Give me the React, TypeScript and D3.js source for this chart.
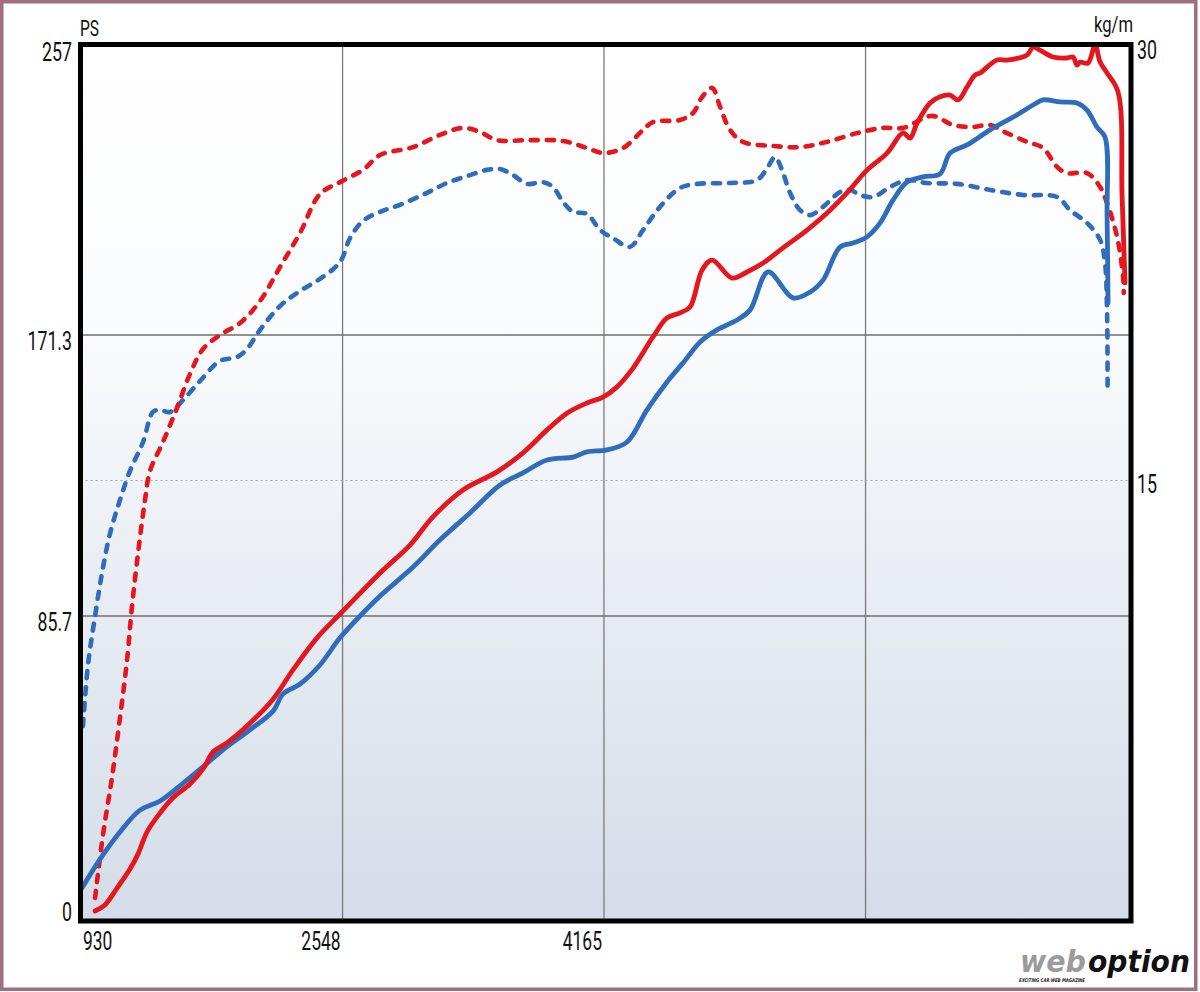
import React from "react";
import * as d3 from "d3";

// ---- data ----
const xTickValues = [930, 2548, 4165];
const xGridValues = [2548, 4165, 5783];
const psTickLabels = ["257", "171.3", "85.7", "0"];
const psTickValues = [257, 171.3, 85.7, 0];
const kgTickLabels = ["30", "15"];
const kgTickValues = [30, 15];

const redPowerRpm = [1017,1078,1153,1233,1283,1338,1419,1499,1604,1685,1747,1833,1957,2118,2241,2390,2532,2780,2965,3107,3293,3503,3664,3813,3936,4060,4159,4246,4345,4468,4555,4635,4697,4772,4834,4957,5050,5149,5254,5421,5545,5668,5792,5916,6015,6058,6102,6182,6244,6306,6355,6411,6460,6491,6596,6658,6782,6819,6862,6943,7029,7066,7091,7110,7159,7203,7234,7277,7345,7370,7388];
const redPowerPs = [2.0,3.7,8.5,13.9,18.2,24.4,29.8,34.1,38.0,42.3,47.1,49.7,54.5,62.1,70.4,79.5,86.3,98.8,107.3,115.9,124.1,129.6,135.4,142.4,147.5,150.6,152.4,155.5,161.2,170.7,176.3,177.8,179.5,190.4,193.3,188.0,189.8,192.4,196.2,202.1,207.1,213.0,219.7,224.7,230.6,229.1,233.5,239.4,241.2,241.7,240.3,244.1,247.6,248.2,252.0,252.0,253.5,255.8,254.9,252.9,252.6,252.9,250.5,251.4,251.1,256.4,251.4,248.2,242.6,211.8,186.6];

const bluePowerRpm = [936,1048,1171,1295,1419,1542,1685,1808,1975,2118,2180,2285,2408,2532,2656,2780,2984,3151,3336,3522,3664,3813,3974,4060,4184,4308,4431,4555,4654,4760,4864,4988,5068,5180,5334,5440,5520,5625,5706,5792,5873,5953,6040,6139,6244,6306,6411,6553,6720,6819,6881,6986,7091,7153,7215,7264,7277,7283];
const bluePowerPs = [8.5,16.7,24.4,30.6,33.2,37.5,42.9,47.7,53.4,58.7,63.6,66.4,71.8,79.5,85.7,91.8,100.6,108.9,117.1,125.6,129.3,133.2,134.1,135.7,136.3,138.7,148.5,157.0,162.8,169.2,172.8,175.7,178.6,189.8,182.2,183.9,187.4,197.1,198.3,200.1,204.2,210.9,216.2,217.7,218.6,224.7,227.1,231.5,235.9,238.8,240.3,239.7,239.4,237.3,232.3,229.4,205.9,180.7];

const redTorqueRpm = [1017,1066,1122,1171,1215,1245,1283,1326,1357,1437,1524,1604,1685,1790,1914,2037,2161,2285,2408,2532,2674,2780,2984,3151,3293,3398,3503,3707,3912,4060,4159,4283,4407,4468,4635,4716,4772,4834,4883,4945,5025,5211,5378,5545,5730,5891,6015,6194,6324,6448,6553,6658,6782,6881,6968,7029,7153,7234,7277,7339,7376,7380];
const redTorqueKgm = [0.69,2.85,4.83,6.86,8.85,10.66,12.51,14.33,15.33,16.32,17.49,18.65,19.51,19.99,20.40,21.15,22.32,23.49,24.82,25.23,25.65,26.16,26.43,26.85,27.09,26.95,26.67,26.67,26.64,26.40,26.23,26.40,27.02,27.29,27.36,27.60,28.15,28.46,27.81,27.02,26.61,26.47,26.43,26.61,26.91,27.09,27.09,27.50,27.19,27.12,27.19,26.91,26.61,26.40,25.75,25.54,25.54,25.06,24.51,23.35,21.98,21.43];

const blueTorqueRpm = [942,973,1017,1060,1109,1171,1233,1314,1375,1419,1481,1561,1666,1790,1895,1957,2037,2161,2285,2408,2532,2594,2674,2780,2903,3070,3194,3336,3441,3522,3603,3689,3788,3850,3912,3974,4060,4141,4221,4326,4407,4511,4635,4741,4945,5112,5174,5223,5266,5316,5378,5440,5520,5625,5687,5749,5829,5934,6040,6163,6349,6553,6757,6968,7048,7153,7234,7264,7277,7280];
const blueTorqueKgm = [6.58,8.67,10.35,11.83,13.17,14.33,15.33,16.32,17.35,17.42,17.35,17.76,18.41,19.10,19.23,19.51,20.16,20.98,21.50,21.91,22.49,23.31,23.90,24.21,24.45,24.86,25.20,25.47,25.65,25.68,25.47,25.17,25.23,25.06,24.55,24.21,24.14,23.59,23.31,23.01,23.59,24.38,25.03,25.17,25.20,25.30,25.71,26.09,25.65,24.86,24.27,24.10,24.38,24.89,24.96,24.79,24.72,25.06,25.30,25.20,25.17,24.96,24.79,24.72,24.27,23.83,23.25,22.46,20.74,18.00];

const RED = "#e5161d";
const BLUE = "#2f6dbb";
const LABEL_FONT = "Roboto, 'Liberation Sans', sans-serif";

function zip(xs: number[], ys: number[]): [number, number][] {
  return xs.map((v, i) => [v, ys[i]]);
}

function labelWidth(s: string, digit: number) {
  let w = 0;
  for (const c of s) w += c === "." ? digit * 0.45 : digit;
  return w;
}

export default function App() {
  const W = 1200, H = 992;
  const left = 80.5, right = 1131, top = 44.5, bottom = 921;

  const x = d3.scaleLinear().domain([930, 7425]).range([81, 1131]);
  const yPs = d3.scaleLinear().domain([0, 85.7, 171.3, 257]).range([918, 616, 335, 43]);
  const yKg = d3.scaleLinear().domain([0, 30]).range([918, 43]);

  const curve = d3.curveCatmullRom.alpha(0.5);
  const psLine = d3.line<[number, number]>().x(d => x(d[0])).y(d => yPs(d[1])).curve(curve);
  const kgLine = d3.line<[number, number]>().x(d => x(d[0])).y(d => yKg(d[1])).curve(curve);

  const psOffsets = (i: number, n: number) => (i === 0 ? 18 : i === n - 1 ? 3 : 15);

  return (
    <svg width={W} height={H} style={{ position: "absolute", left: 0, top: 0, display: "block" }}>
      <defs>
        <linearGradient id="bg" x1="0" y1="0" x2="0" y2="1">
          <stop offset="0" stopColor="#ffffff" />
          <stop offset="0.3" stopColor="#fbfcfd" />
          <stop offset="1" stopColor="#d3dce8" />
        </linearGradient>
      </defs>
      <rect x={0} y={0} width={W} height={H} fill="#ffffff" />
      <rect x={1.75} y={1.75} width={1194} height={987.5} fill="none" stroke="#9f6f7e" strokeWidth={3.5} />

      {/* plot background */}
      <rect x={left} y={top} width={right - left} height={bottom - top} fill="url(#bg)" />

      {/* gridlines */}
      {xGridValues.map(v => (
        <line key={"gx" + v} x1={x(v)} x2={x(v)} y1={top} y2={bottom} stroke="#7b7b7b" strokeWidth={1.3} />
      ))}
      {[171.3, 85.7].map(v => (
        <line key={"gy" + v} x1={left} x2={right} y1={yPs(v)} y2={yPs(v)} stroke="#6f6f6f" strokeWidth={1.3} />
      ))}
      <line x1={left} x2={right} y1={yKg(15)} y2={yKg(15)} stroke="#a8a8a8" strokeWidth={1.2} strokeDasharray="2 3" />

      {/* torque (dashed) */}
      <path d={kgLine(zip(blueTorqueRpm, blueTorqueKgm)) || ""} fill="none" stroke={BLUE} strokeWidth={4.6} strokeDasharray="7 9" strokeLinecap="round" strokeLinejoin="round" />
      <path d={kgLine(zip(redTorqueRpm, redTorqueKgm)) || ""} fill="none" stroke={RED} strokeWidth={4.6} strokeDasharray="7 9" strokeLinecap="round" strokeLinejoin="round" />

      {/* power (solid) */}
      <path d={psLine(zip(bluePowerRpm, bluePowerPs)) || ""} fill="none" stroke={BLUE} strokeWidth={4.8} strokeLinecap="round" strokeLinejoin="round" />
      <path d={psLine(zip(redPowerRpm, redPowerPs)) || ""} fill="none" stroke={RED} strokeWidth={4.8} strokeLinecap="round" strokeLinejoin="round" />

      {/* frame */}
      <rect x={left} y={top} width={right - left} height={bottom - top} fill="none" stroke="#000" strokeWidth={5} />

      {/* left axis labels */}
      {psTickValues.map((v, i) => (
        <text key={"ps" + i} x={72} y={yPs(v) + psOffsets(i, psTickValues.length)} textAnchor="end"
          fontFamily={LABEL_FONT} fontSize={25} fill="#111"
          textLength={labelWidth(psTickLabels[i], 10)} lengthAdjust="spacingAndGlyphs">{psTickLabels[i]}</text>
      ))}
      <text x={80} y={36} fontFamily={LABEL_FONT} fontSize={22} fill="#111" textLength={19} lengthAdjust="spacingAndGlyphs">PS</text>

      {/* right axis labels */}
      {kgTickValues.map((v, i) => (
        <text key={"kg" + i} x={1137} y={yKg(v) + (i === 0 ? 16 : 12)} fontFamily={LABEL_FONT} fontSize={25} fill="#111"
          textLength={labelWidth(kgTickLabels[i], 10)} lengthAdjust="spacingAndGlyphs">{kgTickLabels[i]}</text>
      ))}
      <text x={1094} y={32} fontFamily={LABEL_FONT} fontSize={22} fill="#111" textLength={39} lengthAdjust="spacingAndGlyphs">kg/m</text>

      {/* bottom axis labels */}
      {xTickValues.map((v, i) => {
        const s = String(v);
        return (
          <text key={"x" + v} x={i === 0 ? x(v) + 2 : x(v) - 2} y={950} textAnchor={i === 0 ? "start" : "end"}
            fontFamily={LABEL_FONT} fontSize={25} fill="#111"
            textLength={labelWidth(s, 9.8)} lengthAdjust="spacingAndGlyphs">{s}</text>
        );
      })}

      {/* watermark */}
      <text x={1020} y={972} fontFamily="'DejaVu Sans', sans-serif" fontWeight={900} fontStyle="italic" fontSize={30}
        fill="#9b9b9b" textLength={66} lengthAdjust="spacingAndGlyphs">web</text>
      <text x={1088} y={972} fontFamily="'DejaVu Sans', sans-serif" fontWeight={900} fontStyle="italic" fontSize={30}
        fill="#111" textLength={102} lengthAdjust="spacingAndGlyphs">option</text>
      <text x={1019} y={982} fontFamily="'DejaVu Sans', sans-serif" fontWeight={700} fontStyle="italic" fontSize={5}
        fill="#222" textLength={66} lengthAdjust="spacingAndGlyphs">EXCITING CAR WEB MAGAZINE</text>
    </svg>
  );
}
